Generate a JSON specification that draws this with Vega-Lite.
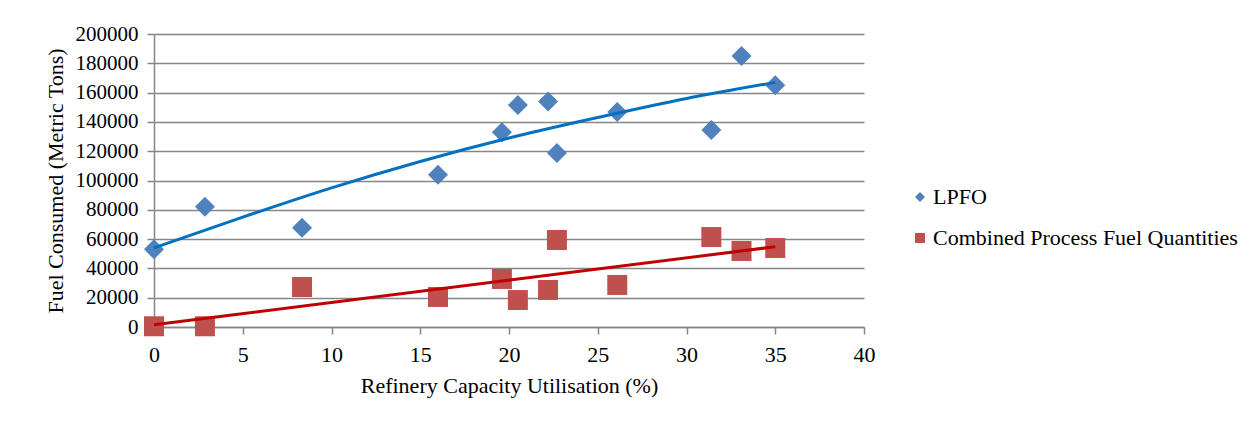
{
  "$schema": "https://vega.github.io/schema/vega-lite/v6.json",
  "autosize": {"type": "none"},
  "width": 710,
  "height": 293,
  "padding": {"left": 154, "top": 34, "right": 391, "bottom": 101},
  "background": "white",
  "config": {
    "font": "Liberation Serif",
    "view": {"stroke": null},
    "axis": {
      "labelFont": "Liberation Serif",
      "titleFont": "Liberation Serif",
      "labelFontSize": 22,
      "titleFontSize": 22,
      "labelColor": "#000000",
      "titleColor": "#000000",
      "titleFontWeight": "normal",
      "labelOverlap": false,
      "domainColor": "#868686",
      "domainWidth": 1.5,
      "tickColor": "#868686",
      "tickWidth": 1.5,
      "tickSize": 7,
      "gridColor": "#868686",
      "gridWidth": 1.5
    },
    "legend": {
      "labelFont": "Liberation Serif",
      "labelFontSize": 22,
      "labelColor": "#000000"
    }
  },
  "datasets": {
    "points": [
      {"x": 0, "y": 53000, "series": "LPFO"},
      {"x": 2.87, "y": 82000, "series": "LPFO"},
      {"x": 8.34, "y": 67800, "series": "LPFO"},
      {"x": 16.0, "y": 104000, "series": "LPFO"},
      {"x": 19.6, "y": 133000, "series": "LPFO"},
      {"x": 20.5, "y": 151500, "series": "LPFO"},
      {"x": 22.2, "y": 154000, "series": "LPFO"},
      {"x": 22.7, "y": 118800, "series": "LPFO"},
      {"x": 26.1, "y": 146800, "series": "LPFO"},
      {"x": 31.4, "y": 134500, "series": "LPFO"},
      {"x": 33.1, "y": 185000, "series": "LPFO"},
      {"x": 35.0, "y": 165000, "series": "LPFO"},
      {"x": 0, "y": 500, "series": "Combined Process Fuel Quantities"},
      {"x": 2.87, "y": 500, "series": "Combined Process Fuel Quantities"},
      {"x": 8.34, "y": 27300, "series": "Combined Process Fuel Quantities"},
      {"x": 16.0, "y": 20500, "series": "Combined Process Fuel Quantities"},
      {"x": 19.6, "y": 32800, "series": "Combined Process Fuel Quantities"},
      {"x": 20.5, "y": 18400, "series": "Combined Process Fuel Quantities"},
      {"x": 22.2, "y": 25300, "series": "Combined Process Fuel Quantities"},
      {"x": 22.7, "y": 59400, "series": "Combined Process Fuel Quantities"},
      {"x": 26.1, "y": 28700, "series": "Combined Process Fuel Quantities"},
      {"x": 31.4, "y": 61400, "series": "Combined Process Fuel Quantities"},
      {"x": 33.1, "y": 51900, "series": "Combined Process Fuel Quantities"},
      {"x": 35.0, "y": 53900, "series": "Combined Process Fuel Quantities"}
    ],
    "lpfoTrend": [
      {"x": 0, "y": 54000},
      {"x": 5, "y": 75000},
      {"x": 10, "y": 95000},
      {"x": 15, "y": 113000},
      {"x": 20, "y": 129000},
      {"x": 25, "y": 143000},
      {"x": 30, "y": 156000},
      {"x": 35, "y": 167000}
    ],
    "cpfTrend": [
      {"x": 0, "y": 1500},
      {"x": 35, "y": 54800}
    ]
  },
  "encoding": {
    "x": {
      "field": "x", "type": "quantitative",
      "scale": {"domain": [0, 40], "nice": false},
      "axis": {
        "values": [0, 5, 10, 15, 20, 25, 30, 35, 40],
        "grid": false,
        "title": "Refinery Capacity Utilisation (%)",
        "labelPadding": 10,
        "titlePadding": 10,
        "labelFlush": false,
        "labelOverlap": false
      }
    },
    "y": {
      "field": "y", "type": "quantitative",
      "scale": {"domain": [0, 200000], "nice": false},
      "axis": {
        "tickCount": 10,
        "format": "d",
        "grid": true,
        "title": "Fuel Consumed (Metric Tons)",
        "labelFontSize": 21,
        "labelPadding": 9,
        "titlePadding": 8,
        "labelFlush": false,
        "labelOverlap": false,
        "labelBound": false
      }
    }
  },
  "layer": [
    {
      "data": {"name": "points"},
      "mark": {"type": "point", "filled": true, "opacity": 1, "size": 400},
      "encoding": {
        "shape": {
          "field": "series", "type": "nominal",
          "scale": {"domain": ["LPFO", "Combined Process Fuel Quantities"], "range": ["diamond", "square"]},
          "legend": {
            "title": null,
            "orient": "none",
            "legendX": 755,
            "legendY": 152,
            "symbolSize": 100,
            "labelOffset": 2,
            "rowPadding": 19,
            "labelLimit": 500
          }
        },
        "color": {
          "field": "series", "type": "nominal",
          "scale": {"domain": ["LPFO", "Combined Process Fuel Quantities"], "range": ["#4F81BD", "#C0504D"]},
          "legend": {
            "title": null,
            "orient": "none",
            "legendX": 755,
            "legendY": 152,
            "symbolSize": 100,
            "labelOffset": 2,
            "rowPadding": 19,
            "labelLimit": 500
          }
        }
      }
    },
    {
      "data": {"name": "lpfoTrend"},
      "mark": {"type": "line", "color": "#0070C0", "strokeWidth": 3, "interpolate": "monotone"},
      "encoding": {}
    },
    {
      "data": {"name": "cpfTrend"},
      "mark": {"type": "line", "color": "#C00000", "strokeWidth": 3},
      "encoding": {}
    }
  ]
}
